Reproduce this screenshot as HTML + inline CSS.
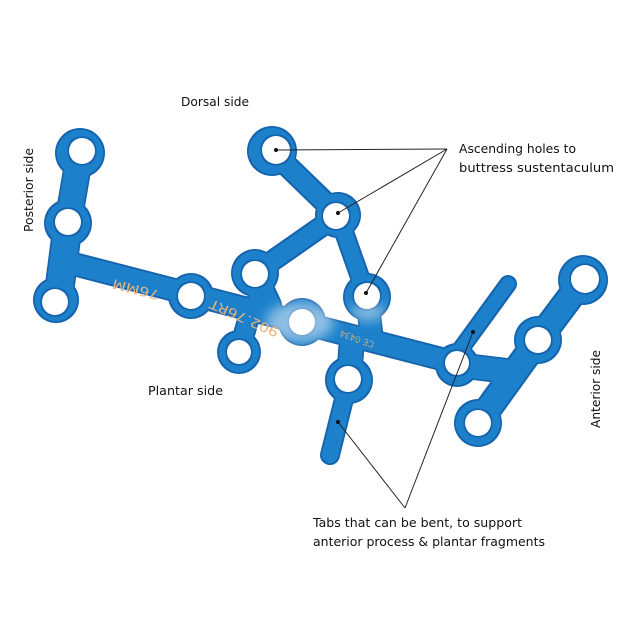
<!DOCTYPE html>
<html><head><meta charset="utf-8">
<style>
html,body{margin:0;padding:0;background:#fff;}
svg{display:block;}
.lb{font-family:"DejaVu Sans","Liberation Sans",sans-serif;font-size:12px;fill:#111;}
.pt{font-family:"DejaVu Sans","Liberation Sans",sans-serif;fill:#eab47c;}
</style></head>
<body>
<svg width="640" height="640" viewBox="0 0 640 640" xmlns="http://www.w3.org/2000/svg">
<defs>
  <filter id="edge" filterUnits="userSpaceOnUse" x="0" y="0" width="640" height="640">
    <feMorphology in="SourceAlpha" operator="erode" radius="1.6" result="er"/>
    <feFlood flood-color="#1d80ca" result="c"/>
    <feComposite in="c" in2="er" operator="in" result="inner"/>
    <feMerge><feMergeNode in="SourceGraphic"/><feMergeNode in="inner"/></feMerge>
  </filter>
  <filter id="blur" filterUnits="userSpaceOnUse" x="0" y="0" width="640" height="640">
    <feGaussianBlur stdDeviation="6"/>
  </filter>
  <mask id="holes" maskUnits="userSpaceOnUse" x="0" y="0" width="640" height="640">
    <rect x="0" y="0" width="640" height="640" fill="#fff"/>
    <g fill="#000">
      <circle cx="82" cy="151" r="13"/>
      <circle cx="68" cy="222" r="13"/>
      <circle cx="55" cy="302" r="13"/>
      <circle cx="191" cy="296" r="13"/>
      <circle cx="255" cy="274" r="13"/>
      <circle cx="276" cy="150" r="14"/>
      <circle cx="336" cy="216" r="13"/>
      <circle cx="367" cy="296" r="13"/>
      <circle cx="239" cy="352" r="12"/>
      <circle cx="302" cy="322" r="13"/>
      <circle cx="348" cy="379" r="13"/>
      <circle cx="457" cy="363" r="12"/>
      <circle cx="585" cy="279" r="14"/>
      <circle cx="538" cy="340" r="13"/>
      <circle cx="478" cy="423" r="13"/>
    </g>
  </mask>
</defs>

<!-- plate -->
<g filter="url(#edge)">
  <g mask="url(#holes)" fill="#1463ad" stroke-linecap="round">
    <g stroke="#1463ad" fill="none">
      <line x1="80" y1="153" x2="68" y2="223" stroke-width="28"/>
      <line x1="68" y1="223" x2="58" y2="300" stroke-width="30"/>
      <line x1="62" y1="261" x2="457" y2="363" stroke-width="24"/>
      <line x1="272" y1="151" x2="338" y2="215" stroke-width="23"/>
      <line x1="338" y1="215" x2="255" y2="273" stroke-width="22"/>
      <line x1="338" y1="215" x2="367" y2="297" stroke-width="20"/>
      <line x1="255" y1="273" x2="270" y2="305" stroke-width="24"/>
      <line x1="367" y1="297" x2="372" y2="340" stroke-width="24"/>
      <line x1="239" y1="352" x2="252" y2="306" stroke-width="22"/>
      <line x1="349" y1="380" x2="352" y2="338" stroke-width="26"/>
      <line x1="345" y1="395" x2="330" y2="455" stroke-width="20"/>
      <line x1="460" y1="350" x2="508" y2="284" stroke-width="18"/>
      <line x1="457" y1="365" x2="515" y2="372" stroke-width="26"/>
      <line x1="583" y1="280" x2="538" y2="340" stroke-width="28"/>
      <line x1="538" y1="340" x2="478" y2="423" stroke-width="28"/>
    </g>
    <circle cx="80" cy="153" r="25"/>
    <circle cx="68" cy="223" r="24"/>
    <circle cx="56" cy="300" r="23"/>
    <circle cx="191" cy="296" r="23"/>
    <circle cx="255" cy="273" r="24"/>
    <circle cx="272" cy="151" r="25"/>
    <circle cx="338" cy="215" r="23"/>
    <circle cx="367" cy="297" r="24"/>
    <circle cx="239" cy="352" r="22"/>
    <circle cx="302" cy="322" r="24"/>
    <circle cx="349" cy="380" r="24"/>
    <circle cx="457" cy="365" r="22"/>
    <circle cx="583" cy="280" r="25"/>
    <circle cx="538" cy="340" r="24"/>
    <circle cx="478" cy="423" r="24"/>
  </g>
</g>

<!-- haze -->
<g filter="url(#blur)" fill="#fff" opacity="0.5">
  <ellipse cx="300" cy="322" rx="34" ry="20"/>
  <ellipse cx="368" cy="312" rx="18" ry="8"/>
</g>

<!-- engraving -->
<text class="pt" font-size="13" transform="translate(137,285) rotate(194.5)" text-anchor="middle" textLength="48" lengthAdjust="spacingAndGlyphs">76MM</text>
<text class="pt" font-size="13" transform="translate(246,314) rotate(204)" text-anchor="middle" textLength="74" lengthAdjust="spacingAndGlyphs">902.76RT</text>
<text class="pt" font-size="9" fill-opacity="0.8" transform="translate(358,336) rotate(200)" text-anchor="middle" textLength="36" lengthAdjust="spacingAndGlyphs">CE 0434</text>

<!-- leader lines -->
<g stroke="#222" stroke-width="1" fill="none">
  <line x1="447" y1="149" x2="276" y2="150"/>
  <line x1="447" y1="149" x2="338" y2="213"/>
  <line x1="447" y1="149" x2="366" y2="293"/>
  <line x1="405" y1="508" x2="338" y2="422"/>
  <line x1="405" y1="508" x2="473" y2="332"/>
</g>
<g fill="#111">
  <circle cx="276" cy="150" r="2"/>
  <circle cx="338" cy="213" r="2"/>
  <circle cx="366" cy="293" r="2"/>
  <circle cx="338" cy="422" r="2"/>
  <circle cx="473" cy="332" r="2"/>
</g>

<!-- labels -->
<text class="lb" x="181" y="106" textLength="68" lengthAdjust="spacingAndGlyphs">Dorsal side</text>
<text class="lb" transform="translate(33,232) rotate(-90)" x="0" y="0" textLength="84" lengthAdjust="spacingAndGlyphs">Posterior side</text>
<text class="lb" x="459" y="153" textLength="117" lengthAdjust="spacingAndGlyphs">Ascending holes to</text>
<text class="lb" x="459" y="172" textLength="155" lengthAdjust="spacingAndGlyphs">buttress sustentaculum</text>
<text class="lb" x="148" y="395" textLength="75" lengthAdjust="spacingAndGlyphs">Plantar side</text>
<text class="lb" transform="translate(600,428) rotate(-90)" x="0" y="0" textLength="78" lengthAdjust="spacingAndGlyphs">Anterior side</text>
<text class="lb" x="313" y="527" textLength="209" lengthAdjust="spacingAndGlyphs">Tabs that can be bent, to support</text>
<text class="lb" x="313" y="546" textLength="232" lengthAdjust="spacingAndGlyphs">anterior process &amp; plantar fragments</text>
</svg>
</body></html>
